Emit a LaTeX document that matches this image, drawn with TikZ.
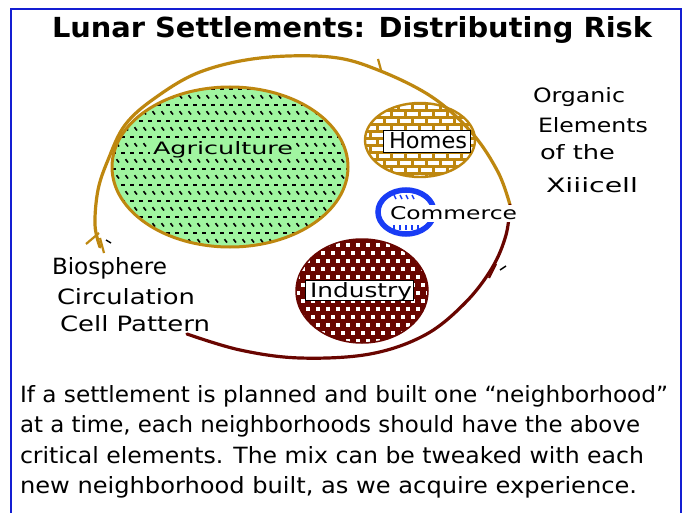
\documentclass[tikz,border=0pt]{standalone}
\usepackage{fontspec}
\setmainfont{DejaVu Sans}
\newfontfamily\titlefont{DejaVu Sans Condensed}
\newcommand\fitt[3]{\resizebox{#1pt}{#2pt}{#3}}
\definecolor{frameblue}{RGB}{20,30,210}
\definecolor{gold}{RGB}{190,135,15}
\definecolor{agrgreen}{RGB}{160,245,160}
\definecolor{darkred}{RGB}{105,5,0}
\definecolor{comblue}{RGB}{25,60,245}
\tikzset{
  lbl/.style={anchor=base west, inner sep=0pt, outer sep=0pt},
  loopgold/.style={draw=gold, line width=3.2pt, line cap=round, line join=round},
  loopred/.style={draw=darkred, line width=3.2pt, line cap=round, line join=round},
  textbox/.style={fill=white, draw=black, line width=0.8pt},
}
\begin{document}
\begin{tikzpicture}[x=1pt,y=-1pt]
\useasboundingbox (0,0) rectangle (690,513);
\fill[white] (0,0) rectangle (690,513);
% frame
\draw[frameblue, line width=2pt] (11,540) -- (11,9) -- (681,9) -- (681,540);
% title
\node[lbl] (title) at (52,38) {\fitt{600}{21}{\titlefont\bfseries Lunar Settlements: Distributing Risk}};

% Agriculture ellipse with pattern
\begin{scope}
\clip (230,167) ellipse [x radius=118, y radius=80];
\fill[agrgreen] (110,85) rectangle (350,250);
\foreach \j in {0,...,20}{
  \foreach \i in {0,...,27}{
    \pgfmathsetmacro\yy{89+8*\j}
    \ifodd\j
      \pgfmathsetmacro\xx{112+9*\i+4.5}
      \draw[black, line width=1.6pt] (\xx,\yy-1.8) -- (\xx+2.5,\yy+1.5);
    \else
      \pgfmathsetmacro\xx{112+9*\i}
      \draw[black, line width=1.6pt] (\xx,\yy) -- (\xx+4,\yy);
    \fi
  }
}
\end{scope}
\draw[gold, line width=3pt] (230,167) ellipse [x radius=118, y radius=80];
\fill[agrgreen] (150,140) rectangle (296,158);

% Homes ellipse with bricks
\begin{scope}
\clip (420,140) ellipse [x radius=55, y radius=37];
\fill[gold] (364,102) rectangle (476,178);
\foreach \j in {0,...,10}{
  \foreach \i in {0,...,8}{
    \pgfmathsetmacro\yy{105+7*\j}
    \ifodd\j \pgfmathsetmacro\xx{358+14*\i+7}\else \pgfmathsetmacro\xx{358+14*\i}\fi
    \fill[white] (\xx,\yy) rectangle (\xx+10.5,\yy+3.6);
  }
}
\end{scope}
\draw[gold, line width=2.4pt] (420,140) ellipse [x radius=55, y radius=37];

% Industry ellipse with dots
\begin{scope}
\clip (362,291) ellipse [x radius=66, y radius=52];
\fill[darkred] (295,238) rectangle (430,345);
\foreach \j in {0,...,13}{
  \foreach \i in {0,...,14}{
    \pgfmathsetmacro\yy{243+8*\j}
    \ifodd\j \pgfmathsetmacro\xx{296+10*\i+5}\else \pgfmathsetmacro\xx{296+10*\i}\fi
    \fill[white] (\xx,\yy) rectangle (\xx+4,\yy+3.5);
  }
}
\end{scope}
\draw[darkred, line width=1.5pt] (362,291) ellipse [x radius=66, y radius=52];

% Circulation loop
\draw[loopgold] plot[smooth, tension=0.6] coordinates {(100,247) (95,225) (98,190) (108,160) (125,125) (155,98) (200,72) (260,58) (330,57) (378,70) (432,97) (472,133) (498,172) (510,205)};
\draw[loopred] plot[smooth, tension=0.6] coordinates {(510,205) (506,235) (492,268) (465,303) (425,335) (370,354) (300,358) (240,350) (187,334)};
% barbs and roots
\coordinate (b1a) at (378,59); \coordinate (b1b) at (381,70);
\draw[gold, line width=2.2pt] (b1a) -- (b1b);
\coordinate (r1a) at (99,233); \coordinate (r1b) at (86,244);
\coordinate (r2a) at (100,238); \coordinate (r2b) at (104,253);
\coordinate (r3a) at (106,240); \coordinate (r3b) at (111,243);
\draw[gold, line width=2.2pt] (r1a) -- (r1b) (r2a) -- (r2b);
\draw[black, line width=1.4pt] (r3a) -- (r3b);
\coordinate (b2a) at (496,264); \coordinate (b2b) at (489,278);
\coordinate (b3a) at (500,270); \coordinate (b3b) at (506,266);
\draw[darkred, line width=2.2pt] (b2a) -- (b2b);
\draw[black, line width=1.4pt] (b3a) -- (b3b);

% Commerce
\draw[comblue, line width=5.5pt, fill=white] (406,212) ellipse [x radius=28, y radius=22];
\foreach \xx in {394,400,406,412}{ \draw[comblue, line width=1.4pt] (\xx,195) -- (\xx+2,199); }
\foreach \xx in {394,400,406,412,418}{ \draw[comblue, line width=1.4pt] (\xx,225) -- (\xx,230); }
\fill[white] (388,205) rectangle (519,222);

% text boxes
\draw[textbox] (383,130) rectangle (470,152);
\draw[textbox] (305,280) rectangle (413,300);

% labels
\node[lbl] (agri) at (153,155) {\fitt{140}{13}{Agriculture}};
\node[lbl] (homes) at (389,149) {\fitt{78}{16}{Homes}};
\node[lbl] (comm) at (390,219) {\fitt{127}{13}{Commerce}};
\node[lbl] (ind) at (310,297) {\fitt{102}{15}{Industry}};
\node[lbl] (org1) at (533,103) {\fitt{92}{15}{Organic}};
\node[lbl] (org2) at (538,133) {\fitt{110}{15}{Elements}};
\node[lbl] (org3) at (540,160) {\fitt{75}{15}{of the}};
\node[lbl] (org4) at (546,192) {\fitt{92}{15}{Xiiicell}};
\node[lbl] (bio1) at (52,274) {\fitt{115}{17}{Biosphere}};
\node[lbl] (bio2) at (57,304) {\fitt{138}{16}{Circulation}};
\node[lbl] (bio3) at (60,331) {\fitt{150}{16}{Cell Pattern}};

% paragraph
\node[lbl] (p1) at (20,402) {\fitt{648}{17}{If a settlement is planned and built one “neighborhood”}};
\node[lbl] (p2) at (20,432) {\fitt{620}{17}{at a time, each neighborhoods should have the above}};
\node[lbl] (p3) at (20,463) {\fitt{624}{17}{critical elements. The mix can be tweaked with each}};
\node[lbl] (p4) at (20,493) {\fitt{617}{17}{new neighborhood built, as we acquire experience.}};
\end{tikzpicture}
\end{document}
